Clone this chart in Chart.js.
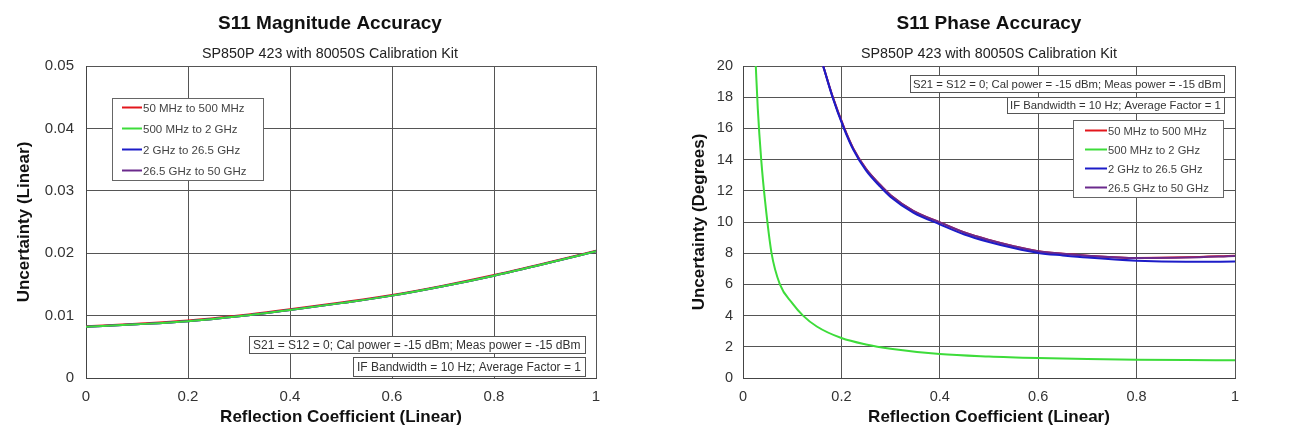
<!DOCTYPE html>
<html><head><meta charset="utf-8">
<script src="https://cdn.jsdelivr.net/npm/chart.js@4.4.1/dist/chart.umd.min.js"></script>
<style>
html,body{margin:0;padding:0;background:#fff;width:1303px;height:441px;overflow:hidden}
.box{position:absolute;top:0;height:441px}
#b1{left:0;width:650px}
#b2{left:650px;width:653px}
</style></head><body>
<div class="box" id="b1"><canvas id="c1"></canvas></div>
<div class="box" id="b2"><canvas id="c2"></canvas></div>
<script>
// ---- data ----
const seriesNames = ['50 MHz to 500 MHz', '500 MHz to 2 GHz', '2 GHz to 26.5 GHz', '26.5 GHz to 50 GHz'];

// S11 magnitude accuracy (linear)
const magX      = [0, 0.1, 0.2, 0.3, 0.4, 0.5, 0.6, 0.7, 0.8, 0.9, 1.0];
const magRed    = [0.0083, 0.0087, 0.0092, 0.0100, 0.0110, 0.0121, 0.0133, 0.0148, 0.0165, 0.0184, 0.0204];
const magGreen  = [0.0082, 0.0086, 0.0091, 0.0099, 0.0109, 0.0120, 0.0132, 0.0147, 0.0164, 0.0183, 0.0203];
const magBlue   = [0.0082, 0.0086, 0.0091, 0.0099, 0.0109, 0.0120, 0.0132, 0.0147, 0.0164, 0.0183, 0.0203];
const magPurple = [0.0082, 0.0086, 0.0091, 0.0099, 0.0109, 0.0120, 0.0132, 0.0147, 0.0164, 0.0183, 0.0203];

// S11 phase accuracy (degrees)
const phaseGreenX = [0.026, 0.03, 0.037, 0.045, 0.058, 0.075, 0.1, 0.122, 0.15, 0.2, 0.25, 0.3, 0.4, 0.5, 0.6, 0.7, 0.8, 0.9, 1.0];
const phaseGreen  = [20, 17.3, 14, 11.3, 8.0, 6.0, 4.8, 4.0, 3.3, 2.56, 2.15, 1.88, 1.54, 1.38, 1.28, 1.21, 1.17, 1.15, 1.14];
const phaseHiX    = [0.163, 0.182, 0.205, 0.224, 0.25, 0.278, 0.3, 0.346, 0.4, 0.45, 0.5, 0.55, 0.6, 0.65, 0.7, 0.8, 0.9, 1.0];
const phaseBlue   = [20, 18, 16, 14.64, 13.3, 12.29, 11.6, 10.6, 9.85, 9.2, 8.72, 8.33, 8.02, 7.86, 7.72, 7.52, 7.45, 7.46];
const phasePurple = [20, 18.05, 16.08, 14.72, 13.4, 12.4, 11.72, 10.72, 9.98, 9.33, 8.85, 8.45, 8.12, 7.96, 7.84, 7.69, 7.72, 7.82];
const phaseRed    = [20, 18.05, 16.08, 14.72, 13.4, 12.4, 11.72, 10.72, 9.98, 9.33, 8.85, 8.45, 8.12, 7.96, 7.84, 7.7, 7.74, 7.84];

const xTicks = [0, 0.2, 0.4, 0.6, 0.8, 1];

// ---- styles ----
const FONT = '"Liberation Sans", Arial, sans-serif';
const colors = ['#e3161c', '#3ddc3a', '#1c1cc8', '#6b2a8c'];
Chart.defaults.font.family = FONT;

function pts(xs, ys){ return xs.map((x,i)=>({x:x, y:ys[i]})); }

const decoPlugin = {
  id: 'deco',
  afterDraw(chart, args, o) {
    const {ctx, chartArea: a} = chart;
    ctx.save();
    const cx = (a.left + a.right) / 2 + o.titleShift;
    ctx.textAlign = 'center'; ctx.textBaseline = 'middle';
    ctx.fillStyle = '#111';
    ctx.font = 'bold 19px ' + FONT;
    ctx.fillText(o.title, cx, o.titleY);
    ctx.fillStyle = '#222';
    ctx.font = '14.3px ' + FONT;
    ctx.fillText(o.subtitle, cx, o.subtitleY);
    // note boxes
    for (const n of o.notes) {
      ctx.font = n.size + 'px ' + FONT;
      const w = Math.round(ctx.measureText(n.text).width + 2 * n.padX);
      const x1 = a.right - n.right, x0 = x1 - w;
      const y0 = a.top + n.top;
      ctx.fillStyle = '#fff'; ctx.fillRect(x0, y0, w, n.h);
      ctx.strokeStyle = '#555'; ctx.lineWidth = 1;
      ctx.strokeRect(Math.round(x0) + 0.5, Math.round(y0) + 0.5, w, n.h);
      ctx.fillStyle = '#333'; ctx.textAlign = 'left';
      ctx.fillText(n.text, x0 + n.padX, y0 + n.h / 2 + 1);
    }
    // legend
    const L = o.legend;
    const bx = a.left + L.left, by = a.top + L.top;
    ctx.fillStyle = '#fff'; ctx.fillRect(bx, by, L.w, L.h);
    ctx.strokeStyle = '#666'; ctx.lineWidth = 1;
    ctx.strokeRect(Math.round(bx) + 0.5, Math.round(by) + 0.5, L.w, L.h);
    ctx.font = L.size + 'px ' + FONT;
    ctx.textAlign = 'left';
    chart.data.datasets.forEach((d, i) => {
      const y = by + L.first + i * L.step;
      ctx.strokeStyle = d.borderColor; ctx.lineWidth = 2;
      ctx.beginPath(); ctx.moveTo(bx + L.lineX0, y); ctx.lineTo(bx + L.lineX1, y); ctx.stroke();
      ctx.fillStyle = '#444';
      ctx.fillText(d.label, bx + L.lineX1 + 1, y + 1);
    });
    ctx.restore();
  }
};

function makeChart(id, datasets, cfg) {
  return new Chart(document.getElementById(id), {
    type: 'line',
    data: { datasets: datasets },
    plugins: [decoPlugin],
    options: {
      responsive: true, maintainAspectRatio: false, animation: false,
      layout: { padding: { top: 66, right: cfg.padRight, left: 0, bottom: 0 } },
      elements: { point: { radius: 0 }, line: { borderWidth: 2, cubicInterpolationMode: 'monotone' } },
      plugins: { legend: { display: false }, tooltip: { enabled: false }, deco: cfg.deco },
      scales: {
        x: {
          type: 'linear', min: 0, max: 1,
          afterBuildTicks: s => { s.ticks = xTicks.map(v => ({value: v})); },
          ticks: { padding: 10, color: '#333', font: { size: cfg.tickSize }, maxRotation: 0,
                   callback: v => String(v) },
          grid: { color: '#555', drawTicks: false, lineWidth: 1 },
          border: { color: '#444' },
          title: { display: true, text: 'Reflection Coefficient (Linear)', color: '#111',
                   font: { size: 17, weight: 'bold' }, padding: { top: 0, bottom: 13 } },
          afterFit: s => { s.height = 63; }
        },
        y: {
          min: cfg.yMin, max: cfg.yMax,
          afterBuildTicks: s => { s.ticks = cfg.yTicks.map(v => ({value: v})); },
          ticks: { padding: cfg.yPad, color: '#333', font: { size: cfg.tickSize }, callback: v => String(v) },
          grid: { color: '#555', drawTicks: false, lineWidth: 1 },
          border: { color: '#444' },
          title: { display: true, text: cfg.yTitle, color: '#111',
                   font: { size: 17, weight: 'bold' }, padding: { top: cfg.yTitlePad, bottom: 0 } },
          afterFit: s => { s.width = cfg.yWidth; }
        }
      }
    }
  });
}

const magYTicks = [0, 0.01, 0.02, 0.03, 0.04, 0.05];
const phaseYTicks = [0, 2, 4, 6, 8, 10, 12, 14, 16, 18, 20];

makeChart('c1', [
  { label: seriesNames[0], data: pts(magX, magRed), borderColor: colors[0], order: 3 },
  { label: seriesNames[1], data: pts(magX, magGreen), borderColor: colors[1], order: 0 },
  { label: seriesNames[2], data: pts(magX, magBlue), borderColor: colors[2], order: 2 },
  { label: seriesNames[3], data: pts(magX, magPurple), borderColor: colors[3], order: 1 }
], {
  padRight: 54, yMin: 0, yMax: 0.05, yTicks: magYTicks, yPad: 12, yWidth: 86, yTitle: 'Uncertainty (Linear)',
  yTitlePad: 14, tickSize: 15,
  deco: {
    title: 'S11 Magnitude Accuracy', subtitle: 'SP850P 423 with 80050S Calibration Kit',
    titleShift: -11, titleY: 24, subtitleY: 54,
    notes: [
      { text: 'S21 = S12 = 0; Cal power = -15 dBm; Meas power = -15 dBm', size: 12, padX: 4, right: 11, top: 270, h: 17 },
      { text: 'IF Bandwidth = 10 Hz; Average Factor = 1', size: 12, padX: 4, right: 11, top: 291, h: 19 }
    ],
    legend: { left: 26, top: 32, w: 151, h: 82, size: 11.5, first: 9.5, step: 21, lineX0: 10, lineX1: 30 }
  }
});

makeChart('c2', [
  { label: seriesNames[0], data: pts(phaseHiX, phaseRed), borderColor: colors[0], order: 3 },
  { label: seriesNames[1], data: pts(phaseGreenX, phaseGreen), borderColor: colors[1], order: 0 },
  { label: seriesNames[2], data: pts(phaseHiX, phaseBlue), borderColor: colors[2], order: 1 },
  { label: seriesNames[3], data: pts(phaseHiX, phasePurple), borderColor: colors[3], order: 2 }
], {
  padRight: 68, yMin: 0, yMax: 20, yTicks: phaseYTicks, yPad: 10, yWidth: 93, yTitle: 'Uncertainty (Degrees)',
  yTitlePad: 39, tickSize: 14.5,
  deco: {
    title: 'S11 Phase Accuracy', subtitle: 'SP850P 423 with 80050S Calibration Kit',
    titleShift: 0, titleY: 24, subtitleY: 54,
    notes: [
      { text: 'S21 = S12 = 0; Cal power = -15 dBm; Meas power = -15 dBm', size: 11.3, padX: 3, right: 11, top: 9, h: 17 },
      { text: 'IF Bandwidth = 10 Hz; Average Factor = 1', size: 11.3, padX: 3, right: 11, top: 31, h: 16 }
    ],
    legend: { left: 330, top: 54, w: 150, h: 77, size: 11.2, first: 10.5, step: 19, lineX0: 12, lineX1: 34 }
  }
});
</script>
</body></html>
